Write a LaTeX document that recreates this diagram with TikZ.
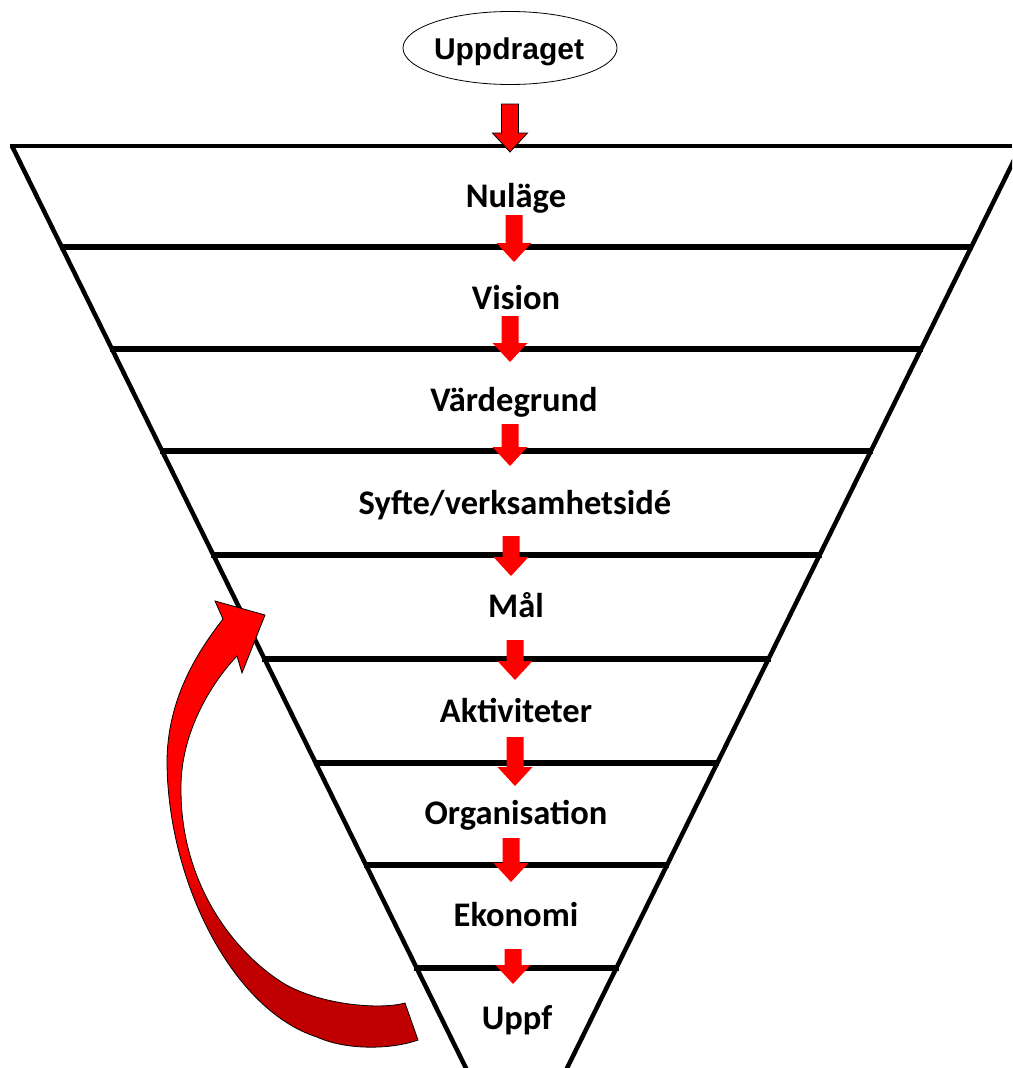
\documentclass[tikz,border=0pt]{standalone}
\usepackage{fontspec}
\setmainfont{Carlito}
\newfontfamily\arialfont{Liberation Sans}
\usetikzlibrary{shapes.geometric}
\definecolor{arrowred}{RGB}{255,0,0}
\definecolor{deepred}{RGB}{192,0,0}
\pgfdeclareverticalshading{curvedarrowshade}{100bp}{color(0bp)=(deepred); color(38bp)=(deepred); color(47bp)=(arrowred); color(100bp)=(arrowred)}
\newcommand\myblockarrow[4][]{%
  \path[blk,#1] (#2-8.5,#3) -- (#2+8.5,#3) -- (#2+8.5,#4-19) -- (#2+17.5,#4-19)
    -- (#2,#4) -- (#2-17.5,#4-19) -- (#2-8.5,#4-19) -- cycle;}
\begin{document}
\begin{tikzpicture}[x=1pt,y=-1pt,
  lbl/.style={font=\fontsize{34.5}{40}\selectfont\bfseries, inner sep=0pt, anchor=base},
  bandline/.style={line width=5.5pt},
  sideline/.style={line width=4.5pt},
  blk/.style={fill=arrowred, draw=none}]
\useasboundingbox (0,0) rectangle (1012,1068);
\clip (0,0) rectangle (1012,1068);
\fill[white] (0,0) rectangle (1012,1068);

% funnel
\draw[line width=4.5pt] (10,146) -- (1012,146);
\draw[sideline] (12,146) -- (478.7,1094);
\draw[sideline] (1021,146) -- (554.3,1094);
\foreach \yy in {247,349,451,555,659,763,865,968}{
  \draw[bandline] ({12+0.492*(\yy-146)-2},\yy) -- ({1021-0.492*(\yy-146)+2},\yy);
}

% top ellipse
\node[ellipse, draw, line width=0.8pt, minimum width=214pt, minimum height=73pt, inner sep=0pt] (uppdraget) at (510,48) {};
\node[font=\arialfont\fontsize{30}{34}\selectfont\bfseries, inner sep=0pt, anchor=base] (uppdragettext) at (509,59) {Uppdraget};

% small arrows
\myblockarrow[draw=black, line width=0.8pt]{510}{104}{152}
\myblockarrow{514}{215}{262}
\myblockarrow{510}{316}{362}
\myblockarrow{510}{424}{466}
\myblockarrow{511}{536}{576}
\myblockarrow{515}{640}{680}
\myblockarrow{515}{737}{786}
\myblockarrow{511}{838}{882}
\myblockarrow{513}{949}{984}

% labels
\node[lbl] (nulage) at (516,207) {Nuläge};
\node[lbl] (vision) at (516,309) {Vision};
\node[lbl] (vardegrund) at (514,411) {Värdegrund};
\node[lbl] (syfte) at (515,514) {Syfte/verksamhetsidé};
\node[lbl] (mal) at (516,617) {Mål};
\node[lbl] (aktiviteter) at (516,722) {Aktiviteter};
\node[lbl] (organisation) at (516,824) {Organisation};
\node[lbl] (ekonomi) at (516,926) {Ekonomi};
\node[lbl] (uppf) at (517,1029) {Uppf};

% curved feedback arrow
\shade[shading=curvedarrowshade, draw=black, line width=0.8pt]
  (265,615) -- (215,601) -- (223,619)
  .. controls (195,655) and (168,700) .. (167,760)
  .. controls (167,880) and (232,1010) .. (317,1037)
  .. controls (345,1050) and (390,1050) .. (418,1040)
  -- (405,1003)
  .. controls (380,1010) and (320,1005) .. (283,983)
  .. controls (228,948) and (181,878) .. (181,790)
  .. controls (180,740) and (205,690) .. (237,656)
  -- (242,673) -- cycle;
\end{tikzpicture}
\end{document}
